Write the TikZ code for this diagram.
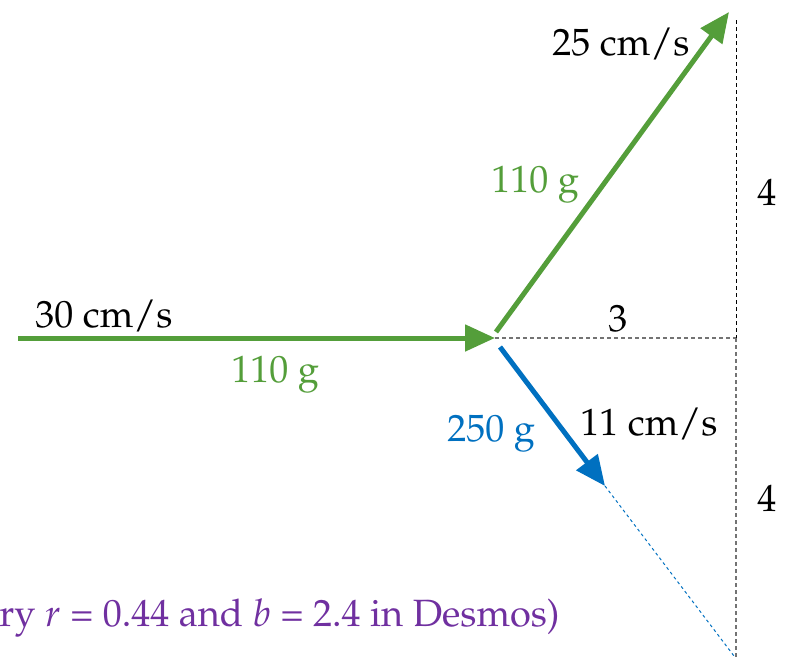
\documentclass[tikz,border=0pt]{standalone}
\usepackage[T1]{fontenc}
\usepackage{mathpazo}
\usetikzlibrary{arrows.meta}
\definecolor{momgreen}{RGB}{84, 158, 58}
\definecolor{momblue}{RGB}{0, 112, 192}
\definecolor{mompurple}{RGB}{112, 48, 160}
\definecolor{guidegray}{RGB}{115, 115, 115}

\begin{document}
\begin{tikzpicture}[x=0.5pt, y=-0.5pt,
    every node/.style={inner sep=0pt, anchor=base west, font=\fontsize{19}{23}\selectfont},
    vec/.style={line width=2.5pt, -{Triangle[length=15pt, width=13pt]}}]
  \useasboundingbox (0,0) rectangle (789,659);
  % points of the collision
  \coordinate (start) at (18,338);
  \coordinate (hit) at (495,338);
  \coordinate (gout) at (496,332);
  \coordinate (gtip) at (729,12);
  \coordinate (bout) at (500,347);
  \coordinate (btip) at (605,486);
  \coordinate (corner) at (736,338);
  \coordinate (top) at (736,20);
  \coordinate (bottom) at (736,658);
  \coordinate (bend) at (734,656);
  % guide lines
  \draw[guidegray, line width=0.6pt, dash pattern=on 2pt off 1.5pt] (hit) -- (corner);
  \draw[black, line width=0.5pt, dash pattern=on 2pt off 1.5pt] (top) -- (corner);
  \draw[guidegray, line width=0.9pt, dash pattern=on 2pt off 1.5pt] (corner) -- (bottom);
  \draw[momblue, line width=0.5pt, dash pattern=on 1.5pt off 1.5pt] (btip) -- (bend);
  % velocity vectors
  \draw[vec, momgreen] (start) -- (hit);
  \draw[vec, momgreen] (gout) -- (gtip);
  \draw[vec, momblue] (bout) -- (btip);
  % labels
  \node (v1) at (35,327) {30 cm/s};
  \node[momgreen] (m1) at (231,382) {110 g};
  \node (v2) at (552,55) {25 cm/s};
  \node[momgreen] (m2) at (491,192) {110 g};
  \node (v3) at (580,435) {11 cm/s};
  \node[momblue] (m3) at (447,441) {250 g};
  \node (dx) at (608,331) {3};
  \node (dy1) at (757,205) {4};
  \node (dy2) at (757,511) {4};
  \node[mompurple] (note) at (-1,626) {ry $r$ = 0.44 and $b$ = 2.4 in Desmos)};
\end{tikzpicture}
\end{document}
